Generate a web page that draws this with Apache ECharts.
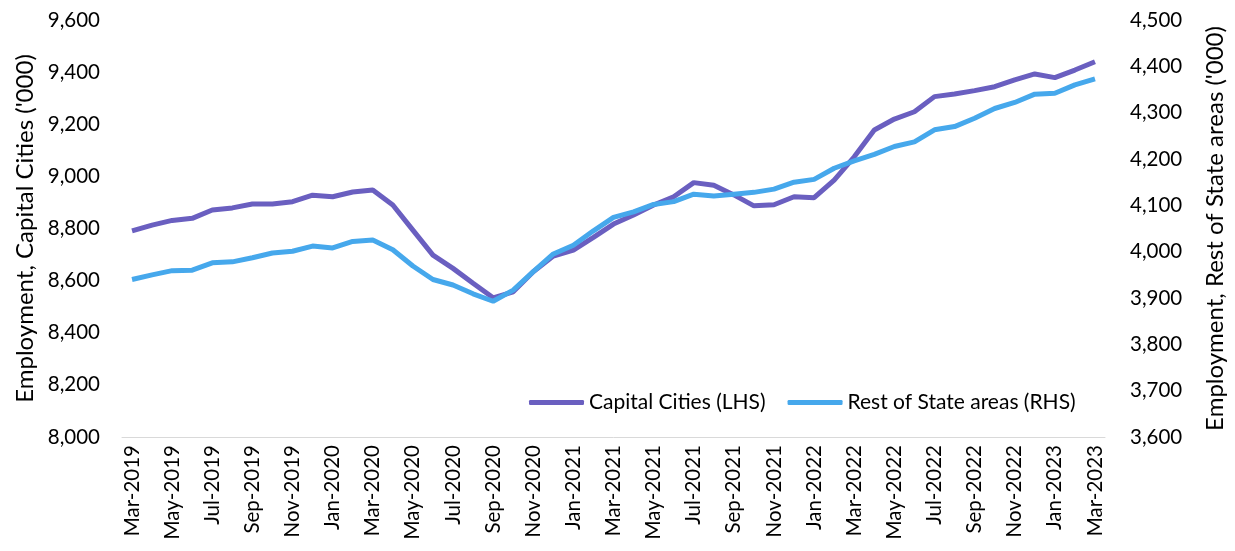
<!DOCTYPE html>
<html>
<head>
<meta charset="utf-8">
<script src="https://cdn.jsdelivr.net/npm/echarts@6/dist/echarts.min.js"></script>
<style>
  html, body { margin: 0; padding: 0; background: #fff; }
  #chart { width: 1235px; height: 551px; }
</style>
</head>
<body>
<div id="chart"></div>
<script>
// Months Mar-2019 .. Mar-2023
const monthNames = ['Jan', 'Feb', 'Mar', 'Apr', 'May', 'Jun', 'Jul', 'Aug', 'Sep', 'Oct', 'Nov', 'Dec'];
const months = [];
for (let k = 0; k < 49; k++) {
  const m = (2 + k) % 12;
  const y = 2019 + Math.floor((2 + k) / 12);
  months.push(monthNames[m] + '-' + y);
}

// Capital Cities, LHS ('000)
const capitalCities = [
  8791, 8813, 8831, 8839, 8871, 8879, 8894, 8894, 8903, 8928, 8922, 8940,
  8948, 8890, 8794, 8698, 8647, 8590, 8534, 8557, 8634, 8694, 8717, 8766,
  8817, 8852, 8890, 8922, 8976, 8966, 8929, 8887, 8891, 8922, 8918, 8986,
  9075, 9178, 9220, 9248, 9306, 9316, 9329, 9344, 9370, 9393, 9379, 9408,
  9440
];

// Rest of State areas, RHS ('000)
const restOfState = [
  3940, 3950, 3959, 3960, 3976, 3978, 3987, 3997, 4001, 4012, 4008, 4022,
  4025, 4004, 3969, 3940, 3928, 3909, 3893, 3917, 3957, 3995, 4014, 4045,
  4074, 4086, 4102, 4108, 4124, 4120, 4124, 4128, 4135, 4150, 4156, 4180,
  4196, 4210, 4227, 4237, 4263, 4270, 4288, 4309, 4322, 4340, 4342, 4360,
  4373
];

const font = 'Lato, "Liberation Sans", sans-serif';
const fmt = v => v.toLocaleString('en-US');

const chart = echarts.init(document.getElementById('chart'));

chart.setOption({
  animation: false,
  textStyle: { fontFamily: font },
  grid: { left: 122, right: 127, top: 20, bottom: 114 },
  legend: {
    left: 524,
    top: 387,
    itemWidth: 55,
    itemHeight: 5,
    itemGap: 22,
    icon: 'roundRect',
    textStyle: { fontSize: 21, color: '#000', fontFamily: font },
    data: ['Capital Cities (LHS)', 'Rest of State areas (RHS)']
  },
  xAxis: {
    type: 'category',
    data: months,
    boundaryGap: true,
    axisLine: { lineStyle: { color: '#d9d9d9', width: 1 } },
    axisTick: { interval: 1, length: 6, lineStyle: { color: '#d9d9d9' } },
    axisLabel: {
      interval: 1,
      rotate: 90,
      fontSize: 20.5,
      color: '#000',
      margin: 8,
      fontFamily: font
    }
  },
  yAxis: [
    {
      type: 'value',
      min: 8000,
      max: 9600,
      interval: 200,
      name: "Employment, Capital Cities ('000)",
      nameLocation: 'middle',
      nameGap: 80,
      nameTextStyle: { fontSize: 24, color: '#000', fontFamily: font },
      axisLine: { show: false },
      axisTick: { show: false },
      splitLine: { show: false },
      axisLabel: { fontSize: 20.5, color: '#000', margin: 22, formatter: fmt, fontFamily: font }
    },
    {
      type: 'value',
      min: 3600,
      max: 4500,
      interval: 100,
      name: "Employment, Rest of State areas ('000)",
      nameLocation: 'middle',
      nameGap: 98,
      nameTextStyle: { fontSize: 24, color: '#000', fontFamily: font },
      axisLine: { show: false },
      axisTick: { show: false },
      splitLine: { show: false },
      axisLabel: { fontSize: 20.5, color: '#000', margin: 25, formatter: fmt, fontFamily: font }
    }
  ],
  series: [
    {
      name: 'Capital Cities (LHS)',
      type: 'line',
      yAxisIndex: 0,
      data: capitalCities,
      showSymbol: false,
      symbol: 'none',
      lineStyle: { color: '#6a5fc0', width: 5 },
      itemStyle: { color: '#6a5fc0' }
    },
    {
      name: 'Rest of State areas (RHS)',
      type: 'line',
      yAxisIndex: 1,
      data: restOfState,
      showSymbol: false,
      symbol: 'none',
      lineStyle: { color: '#46a8ec', width: 5 },
      itemStyle: { color: '#46a8ec' }
    }
  ]
});

window.addEventListener('resize', () => chart.resize());
</script>
</body>
</html>
